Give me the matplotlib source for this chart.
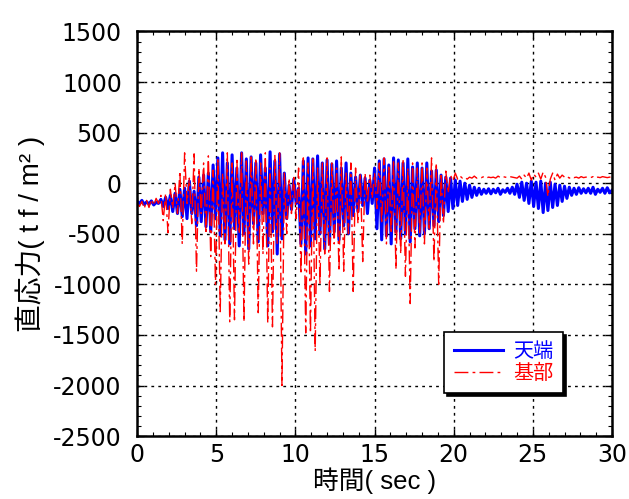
import numpy as np
import matplotlib
matplotlib.use('Agg')
import matplotlib.pyplot as plt
from matplotlib.ticker import MultipleLocator

plt.rcParams['font.family'] = ['Liberation Sans', 'Noto Sans CJK JP']
plt.rcParams['axes.unicode_minus'] = False

# sample step of the read-off values (sec)
dt = 0.15

# 天端 (top) - alternating peaks/troughs, tf/m2
top_vals = [
    -180, -200, -170, -210, -185, -205, -175, -215, -190, -200,
    -160, -230, -140, -250, -120, -280, -100, -300, -60, -330,
    -50, -350, 20, -300, -80, -420, 60, -380, 80, -430,
    100, -480, 180, -350, 250, -520, 300, -560, 200, -600,
    280, -450, 150, -620, 300, -500, 240, -650, 260, -400,
    200, -580, 280, -300, 150, -620, 310, -480, 220, -700,
    290, -550, 100, -350, -20, -260, 40, -200, -50, -600,
    220, -700, 250, -620, 240, -550, 270, -500, 200, -650,
    230, -600, 190, -480, 220, -560, 150, -420, 200, -500,
    100, -320, 60, -280, 80, -220, 50, -300, 30, -200,
    150, -450, 220, -560, 240, -520, 180, -600, 250, -480,
    230, -550, 200, -500, 240, -580, 160, -450, 200, -520,
    150, -500, 200, -450, 120, -420, 130, -380, 80, -320,
    60, -280, 50, -250, 30, -220, 20, -180, 0, -160,
    -20, -140, -40, -120, -50, -110, -60, -100, -55, -105,
    -60, -95, -50, -110, -65, -90, -50, -100, -40, -110,
    -10, -140, 10, -170, 0, -200, 20, -230, 10, -250,
    20, -290, 0, -270, 10, -240, -10, -220, -20, -180,
    -30, -150, -40, -120, -50, -110, -45, -100, -55, -95,
    -50, -100, -40, -110, -60, -90, -50, -100, -45, -95, -70,
]

# 基部 (base)
base_vals = [
    -200, -230, -180, -250, -170, -240, -160, -220, -150, -200,
    -120, -370, -100, -490, -60, -250, 0, -300, 120, -600,
    300, -200, 50, -400, 290, -870, 150, -300, 200, -500,
    270, -725, 130, -1000, 250, -1270, 100, -600, 300, -1370,
    200, -1350, 250, -500, 300, -1370, 220, -800, 280, -600,
    250, -1280, 200, -700, 300, -1380, 150, -1420, 280, -600,
    300, -2000, 100, -500, 50, -300, 80, -350, 150, -900,
    250, -1480, 200, -1480, 260, -1660, 150, -1000, 200, -700,
    250, -1070, 200, -600, 150, -870, 260, -870, 100, -500,
    200, -1070, 150, -400, 100, -775, 100, -200, 80, -150,
    100, -250, 200, -400, 250, -600, 180, -500, 230, -850,
    200, -700, 240, -920, 150, -1190, 200, -640, 150, -500,
    200, -600, 150, -470, 250, -775, 200, -1000, 100, -400,
    120, -100, 80, 20, 100, 40, 70, 50, 60, 40,
    60, 50, 70, 50, 60, 55, 65, 50, 60, 55,
    60, 50, 70, 55, 65, 60, 55, 65, 60, 55,
    50, 70, 40, 80, 50, 100, 30, 90, 60, 100,
    40, 110, 60, -130, 40, 100, 30, 90, 50, 80,
    60, 70, 50, 65, 55, 60, 50, 65, 55, 60,
    60, 55, 65, 50, 60, 55, 65, 60, 55, 60, 60,
]

time = np.arange(len(top_vals)) * dt

fig = plt.figure(figsize=(6.29, 4.99), dpi=100)
ax = fig.add_axes([0.218, 0.126, 0.755, 0.811])

ax.plot(time, top_vals, color='#0000ff', lw=2.2, label='天端')
ax.plot(time, base_vals, color='#ff0000', lw=1.0, dashes=(10, 3, 2, 3), label='基部')

ax.set_xlim(0, 30)
ax.set_ylim(-2500, 1500)
ax.xaxis.set_major_locator(MultipleLocator(5))
ax.xaxis.set_minor_locator(MultipleLocator(1))
ax.yaxis.set_major_locator(MultipleLocator(500))
ax.yaxis.set_minor_locator(MultipleLocator(100))
ax.tick_params(which='both', direction='in', top=True, right=True)
ax.tick_params(which='major', length=5, width=1)
ax.tick_params(which='minor', length=3, width=0.8)
ax.tick_params(axis='y', which='major', pad=11)
ax.tick_params(axis='x', which='major', pad=5)
for lab in ax.get_xticklabels() + ax.get_yticklabels():
    lab.set_fontfamily('DejaVu Sans')
    lab.set_fontsize(17)
ax.grid(True, which='major', color='black', linestyle=(0, (2, 3)), lw=1)
for sp in ax.spines.values():
    sp.set_linewidth(1.8)

ax.set_xlabel('時間( sec )', fontsize=18.5, labelpad=0)
ax.set_ylabel('直応力( t f / m² )', fontsize=20, labelpad=6)

leg = ax.legend(loc='lower right', bbox_to_anchor=(0.897, 0.106), fontsize=14.5,
                fancybox=False, shadow={'color': 'black', 'alpha': 1},
                edgecolor='black', framealpha=1, handlelength=2.4,
                labelcolor='linecolor', borderpad=0.5, labelspacing=0.15,
                borderaxespad=0, handletextpad=0.5)
leg.get_frame().set_linewidth(1.2)

fig.savefig('out.png', dpi=100)
